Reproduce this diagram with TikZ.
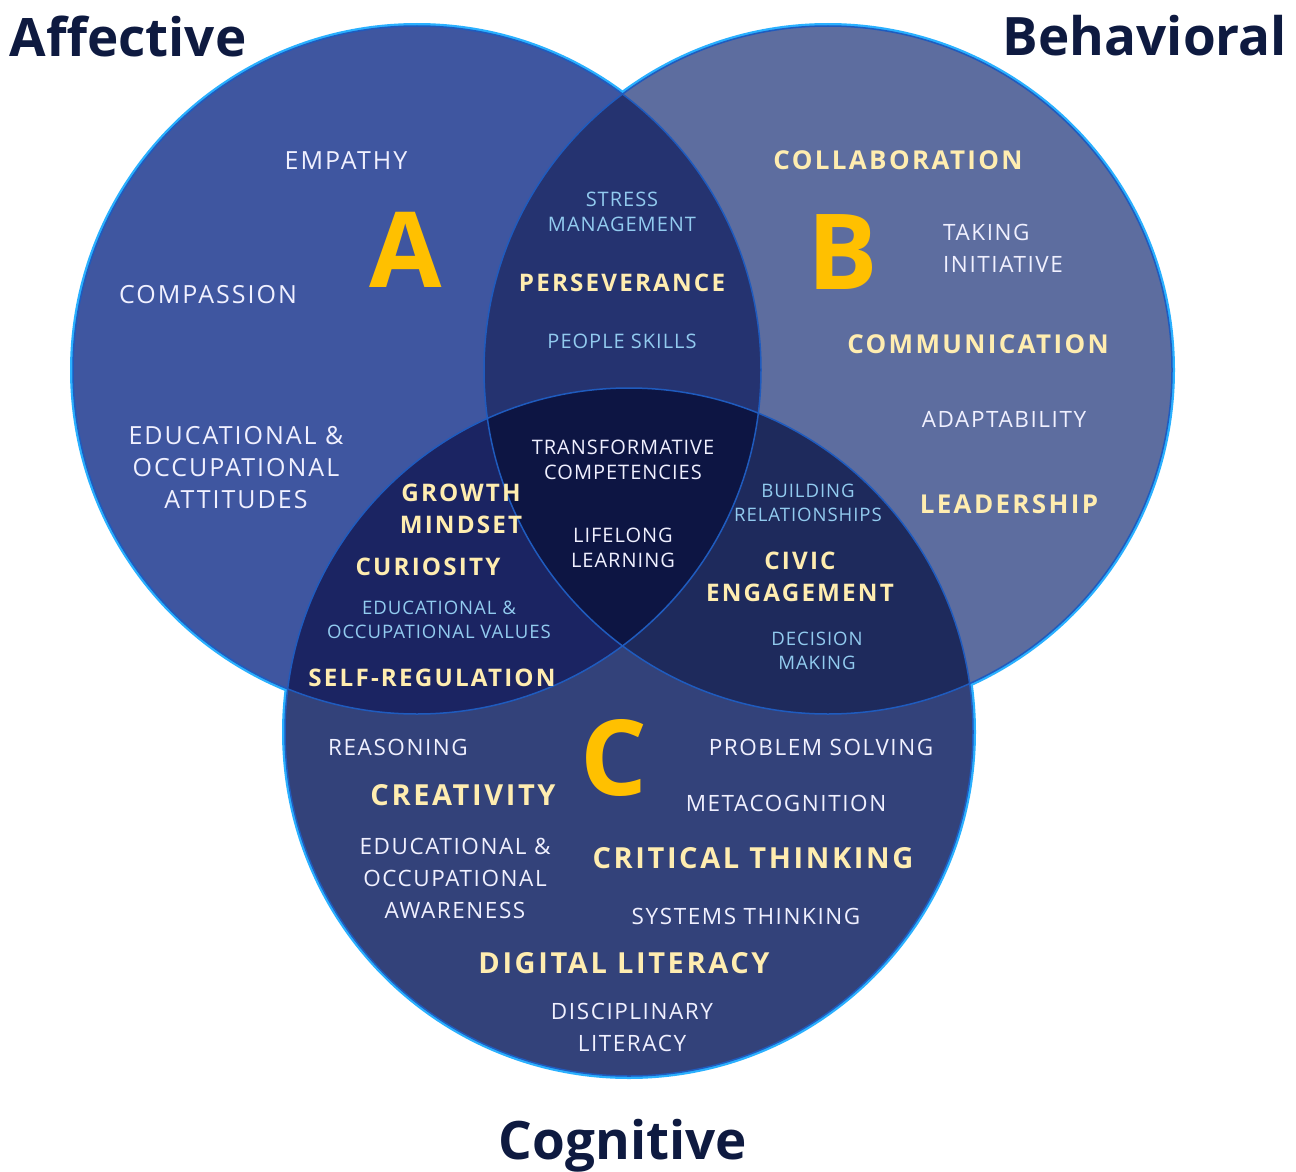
\documentclass[tikz,border=0pt]{standalone}
\usepackage{fontspec}
\setmainfont{Open Sans}
\usepackage{tikz}
\usetikzlibrary{positioning, calc}

\definecolor{fillA}{HTML}{3F56A0}
\definecolor{fillB}{HTML}{5D6D9F}
\definecolor{fillC}{HTML}{33427A}
\definecolor{fillAB}{HTML}{253370}
\definecolor{fillAC}{HTML}{1B2462}
\definecolor{fillBC}{HTML}{1E2A5C}
\definecolor{fillABC}{HTML}{0D1543}
\definecolor{rimblue}{HTML}{2AB0FF}
\definecolor{seamblue}{HTML}{1F5BBE}
\definecolor{cream}{HTML}{FFEDB0}
\definecolor{paleblue}{HTML}{92CBEF}
\definecolor{gold}{HTML}{FFC000}
\definecolor{navy}{HTML}{0E1A40}

\tikzset{
    wt/.style={text=white!94!blue, font=\fontsize{25}{32}\selectfont\addfontfeatures{LetterSpace=8}, align=center},
    ws/.style={text=white!94!blue, font=\fontsize{22.5}{32}\selectfont\addfontfeatures{LetterSpace=7}, align=center},
    yl/.style={text=cream, font=\fontsize{26}{32}\selectfont\bfseries\addfontfeatures{LetterSpace=9}, align=center},
    ym/.style={text=cream, font=\fontsize{24.2}{32}\selectfont\bfseries\addfontfeatures{LetterSpace=9}, align=center},
    yc/.style={text=cream, font=\fontsize{29}{34}\selectfont\bfseries\addfontfeatures{LetterSpace=9}, align=center},
    lb/.style={text=paleblue, font=\fontsize{20}{25}\selectfont\addfontfeatures{LetterSpace=5}, align=center},
    ls/.style={text=paleblue, font=\fontsize{18.6}{24}\selectfont\addfontfeatures{LetterSpace=5}, align=center},
    ct/.style={text=white!94!blue, font=\fontsize{20}{25}\selectfont\addfontfeatures{LetterSpace=5}, align=center},
    bigletter/.style={text=gold, font=\fontsize{105}{105}\selectfont\bfseries},
    title/.style={text=navy, font=\fontsize{53}{60}\selectfont\bfseries}
}

\begin{document}
\begin{tikzpicture}[x=1pt, y=-1pt]
\useasboundingbox (0,0) rectangle (1296,1172);

\coordinate (cA) at (417,370);
\coordinate (cB) at (828,370);
\coordinate (cC) at (629,732);
\def\rad{344}

% bright rims (outer half stays visible)
\foreach \c in {cA, cB, cC}
    \draw[rimblue, line width=6pt] (\c) circle (\rad);

% circles
\fill[fillA] (cA) circle (\rad);
\fill[fillB] (cB) circle (\rad);
\fill[fillC] (cC) circle (\rad);

% overlaps
\begin{scope}
    \clip (cA) circle (\rad);
    \fill[fillAB] (cB) circle (\rad);
    \fill[fillAC] (cC) circle (\rad);
\end{scope}
\begin{scope}
    \clip (cB) circle (\rad);
    \fill[fillBC] (cC) circle (\rad);
    \clip (cC) circle (\rad);
    \fill[fillABC] (cA) circle (\rad);
\end{scope}

% seams
\foreach \c in {cA, cB, cC}
    \draw[seamblue, line width=1.5pt] (\c) circle (\rad);

% titles
\node[title] (affective) at (128,36) {Affective};
\node[title] (behavioral) at (1145,36) {Behavioral};
\node[title] (cognitive) at (623,1146) {Cognitive};

% big letters
\node[bigletter] (letA) at (406,250) {A};
\node[bigletter] (letB) at (843,252) {B};
\node[bigletter] (letC) at (614,758) {C};

% affective
\node[wt] (empathy) at (346,161) {EMPATHY};
\node[wt] (compassion) at (208,295) {COMPASSION};
\node[wt] (attitudes) at (236,468) {EDUCATIONAL \&\\OCCUPATIONAL\\ATTITUDES};

% behavioral
\node[yl] (collab) at (898,160) {COLLABORATION};
\node[ws, align=left] (initiative) at (1003,248) {TAKING\\INITIATIVE};
\node[yl] (communic) at (978,344) {COMMUNICATION};
\node[ws] (adapt) at (1004,419) {ADAPTABILITY};
\node[yl] (leader) at (1009,504) {LEADERSHIP};

% affective + behavioral
\node[lb] (stress) at (622,212) {STRESS\\MANAGEMENT};
\node[ym] (persev) at (622,283) {PERSEVERANCE};
\node[lb] (people) at (622,341) {PEOPLE SKILLS};

% all three
\node[ct] (transform) at (623,460) {TRANSFORMATIVE\\COMPETENCIES};
\node[ct] (lifelong) at (623,548) {LIFELONG\\LEARNING};

% affective + cognitive
\node[ym] (growth) at (461,509) {GROWTH\\MINDSET};
\node[ym] (curiosity) at (428,567) {CURIOSITY};
\node[ls] (values) at (439,620) {EDUCATIONAL \&\\OCCUPATIONAL VALUES};
\node[ym] (selfreg) at (432,678) {SELF-REGULATION};

% behavioral + cognitive
\node[ls] (building) at (808,503) {BUILDING\\RELATIONSHIPS};
\node[ym] (civic) at (800,577) {CIVIC\\ENGAGEMENT};
\node[ls] (decision) at (817,651) {DECISION\\MAKING};

% cognitive
\node[ws] (reasoning) at (398,747) {REASONING};
\node[yc] (creativity) at (463,795) {CREATIVITY};
\node[ws] (problem) at (821,747) {PROBLEM SOLVING};
\node[ws] (metacog) at (786,803) {METACOGNITION};
\node[ws] (awareness) at (455,878) {EDUCATIONAL \&\\OCCUPATIONAL\\AWARENESS};
\node[yc] (critical) at (753,858) {CRITICAL THINKING};
\node[ws] (systems) at (746,916) {SYSTEMS THINKING};
\node[yc] (digital) at (624,963) {DIGITAL LITERACY};
\node[ws] (discipl) at (632,1027) {DISCIPLINARY\\LITERACY};
\end{tikzpicture}
\end{document}
